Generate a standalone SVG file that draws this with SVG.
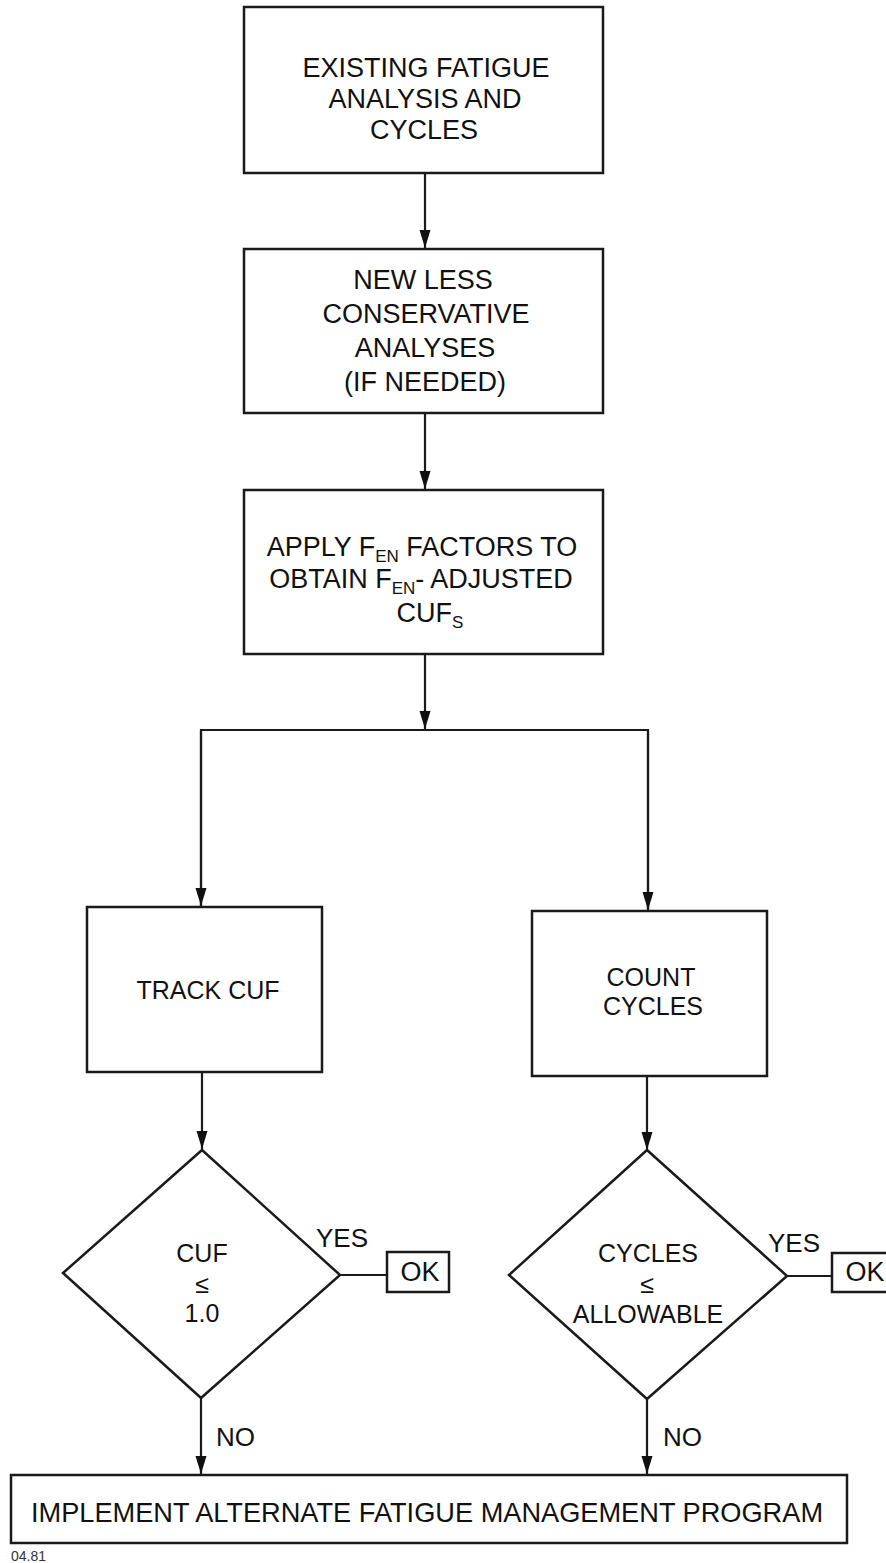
<svg xmlns="http://www.w3.org/2000/svg" width="886" height="1563" viewBox="0 0 886 1563">
<style>
.box{fill:#fff;stroke:#1a1a1a;stroke-width:2.5}
.ln{fill:none;stroke:#1a1a1a;stroke-width:2.2}
.t{font-family:"Liberation Sans",Arial,sans-serif;fill:#111;text-anchor:middle}
.big{font-size:27px}
.mid{font-size:25px}
.ok{font-size:27px}
.lbl{font-size:26px;text-anchor:start}
.sub{font-size:17px}
</style>
<defs>
<marker id="ah" markerUnits="userSpaceOnUse" markerWidth="18" markerHeight="12" refX="18" refY="6" orient="auto">
<path d="M0,0.5 L18,6 L0,11.5 z" fill="#111"/>
</marker>
</defs>
<rect width="886" height="1563" fill="#fff"/>
<g id="connectors">
<line class="ln" x1="425" y1="173" x2="425" y2="248" marker-end="url(#ah)"/>
<line class="ln" x1="425" y1="413" x2="425" y2="489" marker-end="url(#ah)"/>
<line class="ln" x1="425" y1="654" x2="425" y2="729" marker-end="url(#ah)"/>
<polyline class="ln" points="201,907 201,730 648,730 648,911"/>
<line class="ln" x1="201" y1="731" x2="201" y2="906" marker-end="url(#ah)"/>
<line class="ln" x1="648" y1="731" x2="648" y2="910" marker-end="url(#ah)"/>
<line class="ln" x1="202" y1="1072" x2="202" y2="1149" marker-end="url(#ah)"/>
<line class="ln" x1="647" y1="1076" x2="647" y2="1150" marker-end="url(#ah)"/>
<line class="ln" x1="340" y1="1275" x2="387" y2="1275"/>
<line class="ln" x1="787" y1="1276" x2="832" y2="1276"/>
<line class="ln" x1="201" y1="1398" x2="201" y2="1474" marker-end="url(#ah)"/>
<line class="ln" x1="647" y1="1399" x2="647" y2="1474" marker-end="url(#ah)"/>
</g>
<g id="n1">
<rect class="box" x="244" y="7" width="359" height="166"/>
<text class="t big" x="426" y="77">EXISTING FATIGUE</text>
<text class="t big" x="425" y="108">ANALYSIS AND</text>
<text class="t big" x="424" y="139">CYCLES</text>
</g>
<g id="n2">
<rect class="box" x="244" y="249" width="359" height="164"/>
<text class="t big" x="423" y="289">NEW LESS</text>
<text class="t big" x="426" y="323">CONSERVATIVE</text>
<text class="t big" x="425" y="357">ANALYSES</text>
<text class="t big" x="425" y="391">(IF NEEDED)</text>
</g>
<g id="n3">
<rect class="box" x="244" y="490" width="359" height="164"/>
<text class="t big" x="422" y="556">APPLY F<tspan class="sub" dy="6">EN</tspan><tspan dy="-6"> FACTORS TO</tspan></text>
<text class="t big" x="421" y="588">OBTAIN F<tspan class="sub" dy="6">EN</tspan><tspan dy="-6">- ADJUSTED</tspan></text>
<text class="t big" x="430" y="622">CUF<tspan class="sub" dy="6">S</tspan></text>
</g>
<g id="n4">
<rect class="box" x="87" y="907" width="235" height="165"/>
<text class="t mid" x="208" y="999">TRACK CUF</text>
</g>
<g id="n5">
<rect class="box" x="532" y="911" width="235" height="165"/>
<text class="t mid" x="651" y="986">COUNT</text>
<text class="t mid" x="653" y="1015">CYCLES</text>
</g>
<g id="d1">
<polygon class="box" points="202,1150 340,1275 201,1398 63,1273"/>
<text class="t mid" x="202" y="1262">CUF</text>
<text class="t mid" x="202" y="1293">≤</text>
<text class="t mid" x="202" y="1322">1.0</text>
</g>
<g id="d2">
<polygon class="box" points="647,1150 787,1276 647,1399 509,1275"/>
<text class="t mid" x="648" y="1262">CYCLES</text>
<text class="t mid" x="647" y="1293">≤</text>
<text class="t mid" x="648" y="1323">ALLOWABLE</text>
</g>
<g id="ok1">
<rect class="box" x="387" y="1252" width="62" height="40"/>
<text class="t ok" x="420" y="1281">OK</text>
</g>
<g id="ok2">
<rect class="box" x="832" y="1253" width="62" height="39"/>
<text class="t ok" x="865" y="1281">OK</text>
</g>
<g id="labels">
<text class="t lbl" x="316" y="1247">YES</text>
<text class="t lbl" x="768" y="1252">YES</text>
<text class="t lbl" x="216" y="1446">NO</text>
<text class="t lbl" x="663" y="1446">NO</text>
</g>
<g id="n6">
<rect class="box" x="11" y="1475" width="836" height="68"/>
<text class="t" style="font-size:27.2px" x="427" y="1522">IMPLEMENT ALTERNATE FATIGUE MANAGEMENT PROGRAM</text>
</g>
<text class="t" style="font-size:14px;text-anchor:start;fill:#333" x="11" y="1561">04.81</text>
</svg>
